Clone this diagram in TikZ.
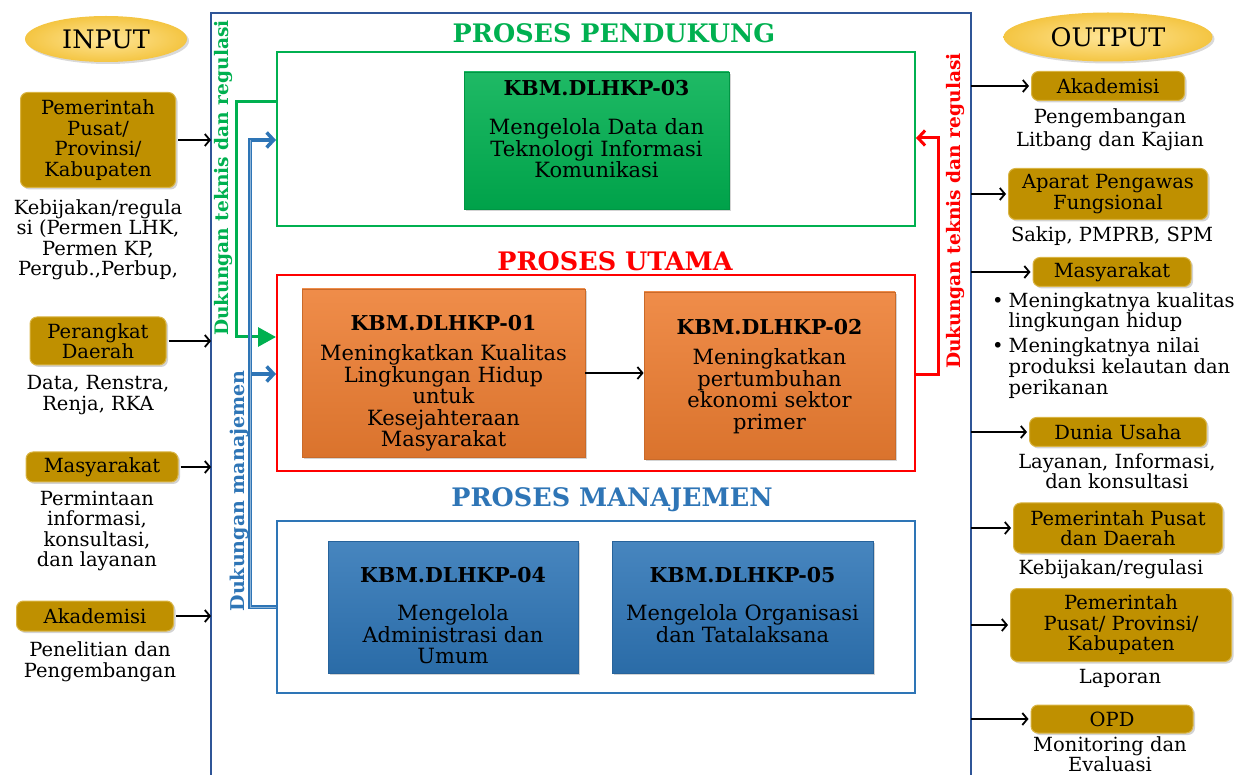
\documentclass[tikz,border=0pt]{standalone}
\usepackage{fontspec}
\setmainfont{DejaVu Serif}
\usetikzlibrary{arrows.meta,shadows,shapes.geometric}

\definecolor{gold}{HTML}{BF9000}
\definecolor{goldedge}{HTML}{D9B443}
\definecolor{frameblue}{HTML}{2F5597}
\definecolor{pgreen}{HTML}{00B050}
\definecolor{pred}{HTML}{FF0000}
\definecolor{pblue}{HTML}{2E75B6}
\definecolor{porange}{HTML}{ED7D31}
\definecolor{ellin}{HTML}{FFE699}
\definecolor{ellout}{HTML}{F4C542}

\newcommand\fsbody{\fontsize{19.5pt}{20.5pt}\selectfont}
\newcommand\fsproc{\fontsize{21pt}{21.5pt}\selectfont}
\newcommand\fskbm{\fontsize{20.5pt}{22pt}\selectfont\bfseries}
\newcommand\fstitle{\fontsize{25.5pt}{27pt}\selectfont\bfseries}
\newcommand\fsside{\fontsize{18.6pt}{20pt}\selectfont\bfseries}

\begin{document}
\begin{tikzpicture}[x=1pt,y=-1pt,
  goldbox/.style={draw=goldedge, line width=1pt, fill=gold, rounded corners=7pt,
    align=center, font=\fsbody, inner sep=1pt,
    drop shadow={shadow xshift=2pt,shadow yshift=-2pt,opacity=0.35}},
  captxt/.style={align=center, font=\fsbody, inner sep=0pt},
  oval/.style={ellipse, inner color=ellin, outer color=ellout, font=\fontsize{25.5pt}{27pt}\selectfont,
    drop shadow={shadow xshift=2pt,shadow yshift=-2pt,opacity=0.3}},
  procbox/.style={draw=#1!85!black, line width=0.8pt, top color=#1!88!white, bottom color=#1!92!black,
    inner sep=0pt, drop shadow={shadow xshift=2pt,shadow yshift=-2pt,opacity=0.35}},
  proctext/.style={align=center, font=\fsproc, inner sep=0pt},
  groupbox/.style={draw=#1, line width=2pt},
  grouptitle/.style={font=\fstitle, text=#1},
  arr/.style={line width=1.8pt, -{Straight Barb[length=5pt,width=12pt]}},
  barb/.style={-{Straight Barb[length=7pt,width=15pt]}},
  sidelbl/.style={rotate=90, font=\fsside, text=#1}
]
\useasboundingbox (0,0) rectangle (1251,775);

% outer frame, open at the bottom
\coordinate (frameL) at (211,0);
\coordinate (frameR) at (971,0);
\draw[frameblue, line width=1.2pt] (211,790) -- (211,13) -- (971,13) -- (971,790);

% ---------- group boxes ----------
\node[groupbox=pgreen, minimum width=638pt, minimum height=174pt] (pend) at (596,139) {};
\node[groupbox=pred,   minimum width=638pt, minimum height=196pt] (utama) at (596,373) {};
\node[groupbox=pblue,  minimum width=638pt, minimum height=172pt] (manaj) at (596,607) {};

\node[grouptitle=pgreen] (tpend)  at (614,33)  {PROSES PENDUKUNG};
\node[grouptitle=pred]   (tutama) at (615,261) {PROSES UTAMA};
\node[grouptitle=pblue]  (tmanaj) at (612,500) {PROSES MANAJEMEN};

% ---------- process boxes ----------
\node[procbox=pgreen, minimum width=265pt, minimum height=137pt] (k03) at (596.5,140.5) {};
\node[proctext, anchor=north] (k03t) at ([yshift=-8pt]k03.north)
  {{\fskbm KBM.DLHKP-03}\\[18pt]Mengelola Data dan\\Teknologi Informasi\\Komunikasi};

\node[procbox=porange, minimum width=283pt, minimum height=168pt] (k01) at (443.5,373) {};
\node[proctext, anchor=north] (k01t) at ([yshift=-26pt]k01.north)
  {{\fskbm KBM.DLHKP-01}\\[9pt]Meningkatkan Kualitas\\Lingkungan Hidup\\untuk\\Kesejahteraan\\Masyarakat};

\node[procbox=porange, minimum width=251pt, minimum height=167pt] (k02) at (769.5,375.5) {};
\node[proctext, anchor=north] (k02t) at ([yshift=-27pt]k02.north)
  {{\fskbm KBM.DLHKP-02}\\[9pt]Meningkatkan\\pertumbuhan\\ekonomi sektor\\primer};

\node[procbox=pblue, minimum width=250pt, minimum height=132pt] (k04) at (453,607) {};
\node[proctext, anchor=north] (k04t) at ([yshift=-26pt]k04.north)
  {{\fskbm KBM.DLHKP-04}\\[17pt]Mengelola\\Administrasi dan\\Umum};

\node[procbox=pblue, minimum width=261pt, minimum height=132pt] (k05) at (742.5,607) {};
\node[proctext, anchor=north] (k05t) at ([yshift=-26pt]k05.north)
  {{\fskbm KBM.DLHKP-05}\\[17pt]Mengelola Organisasi\\dan Tatalaksana};

\draw[arr] (k01.east) -- (k01.east -| k02.west);

% ---------- support connectors ----------
\coordinate (gA) at (236,102);
\coordinate (gB) at (236,337);
\draw[pgreen, line width=3pt, -{Triangle[length=18pt,width=19pt]}]
  (gA -| pend.west) -- (gA) -- (gB) -- (gB -| utama.west);

\coordinate (bA) at (250,140);
\coordinate (bB) at (250,374);
\coordinate (bC) at (250,607);
\draw[pblue, line width=3.5pt, barb]
  (bC -| manaj.west) -- (bC) -- (bA) -- (bA -| pend.west);
\draw[pblue, line width=3.5pt, barb]
  (bB) -- (bB -| utama.west);
\draw[pblue!55!white, line width=0.8pt] (bC -| manaj.west) -- (bC) -- (bA);

\coordinate (rA) at (938,375);
\coordinate (rB) at (938,138);
\draw[pred, line width=3pt, barb]
  (rA -| utama.east) -- (rA) -- (rB) -- (rB -| pend.east);

\node[sidelbl=pgreen] (lg) at (223,178) {Dukungan teknis dan regulasi};
\node[sidelbl=pblue, font=\fontsize{19pt}{21pt}\selectfont\bfseries] (lb) at (239,491) {Dukungan manajemen};
\node[sidelbl=pred] (lr) at (955,211) {Dukungan teknis dan regulasi};

% ---------- input side ----------
\node[oval, minimum width=162pt, minimum height=46pt] (inE) at (106,39) {INPUT};

\node[goldbox, minimum width=155pt, minimum height=95pt] (in1) at (98,140)
  {Pemerintah\\Pusat/\\Provinsi/\\Kabupaten};
\node[captxt] (cin1) at (98,240) {Kebijakan/regula\\si (Permen LHK,\\Permen KP,\\Pergub.,Perbup,};

\node[goldbox, minimum width=136pt, minimum height=48pt] (in2) at (98,341) {Perangkat\\Daerah};
\node[captxt] (cin2) at (98,395) {Data, Renstra,\\Renja, RKA};

\node[goldbox, minimum width=152pt, minimum height=30pt] (in3) at (102,467) {Masyarakat};
\node[captxt] (cin3) at (97,531) {Permintaan\\informasi,\\konsultasi,\\dan layanan};

\node[goldbox, minimum width=157pt, minimum height=30pt] (in4) at (95,616) {Akademisi};
\node[captxt] (cin4) at (100,662) {Penelitian dan\\Pengembangan};

\foreach \n in {in1,in2,in3,in4}
  \draw[arr] ([xshift=2pt]\n.east) -- (\n.east -| frameL);

% ---------- output side ----------
\node[oval, minimum width=209pt, minimum height=49pt] (outE) at (1108,37) {OUTPUT};

\node[goldbox, minimum width=153pt, minimum height=29pt] (out1) at (1108,86) {Akademisi};
\node[captxt, font=\fontsize{19.5pt}{22.5pt}\selectfont] (cout1) at (1110,130) {Pengembangan\\Litbang dan Kajian};

\node[goldbox, minimum width=199pt, minimum height=51pt] (out2) at (1108,194) {Aparat Pengawas\\Fungsional};
\node[captxt] (cout2) at (1112,236) {Sakip, PMPRB, SPM};

\node[goldbox, minimum width=158pt, minimum height=29pt] (out3) at (1112,272) {Masyarakat};
\node[anchor=north west, font=\fsbody, inner sep=0pt] (cout3) at (992,292)
  {\begin{tabular}{@{}l@{\hspace{5pt}}l@{}}
   • & Meningkatnya kualitas\\
     & lingkungan hidup\\[4pt]
   • & Meningkatnya nilai\\
     & produksi kelautan dan\\
     & perikanan
   \end{tabular}};

\node[goldbox, minimum width=177pt, minimum height=29pt] (out4) at (1118,432) {Dunia Usaha};
\node[captxt] (cout4) at (1117,471) {Layanan, Informasi,\\dan konsultasi};

\node[goldbox, minimum width=209pt, minimum height=50pt] (out5) at (1118,528) {Pemerintah Pusat\\dan Daerah};
\node[captxt] (cout5) at (1111,569) {Kebijakan/regulasi};

\node[goldbox, minimum width=221pt, minimum height=73pt] (out6) at (1121,625) {Pemerintah\\Pusat/ Provinsi/\\Kabupaten};
\node[captxt] (cout6) at (1120,678) {Laporan};

\node[goldbox, minimum width=162pt, minimum height=28pt] (out7) at (1112,719) {OPD};
\node[captxt, font=\fontsize{19.5pt}{19.5pt}\selectfont] (cout7) at (1110,754) {Monitoring dan\\Evaluasi};

\foreach \n in {out1,out2,out3,out4,out5,out6,out7}
  \draw[arr] (\n.west -| frameR) -- ([xshift=-2pt]\n.west);

\end{tikzpicture}
\end{document}
